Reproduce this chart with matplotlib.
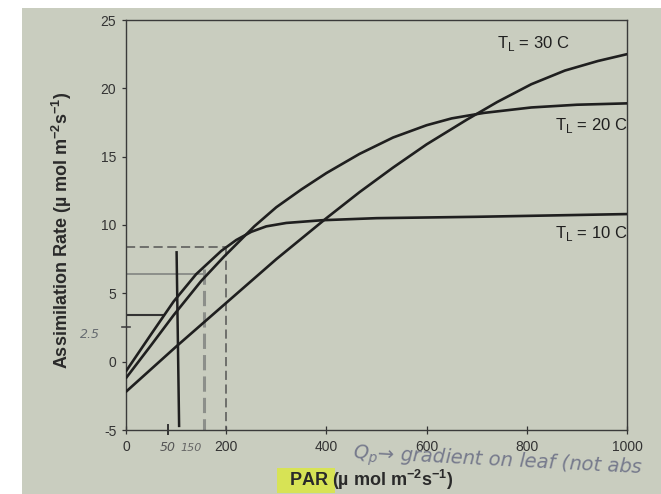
import matplotlib
matplotlib.use("Agg")
import matplotlib.pyplot as plt
from matplotlib import font_manager
from matplotlib.patches import Rectangle

# light-response curves of leaf assimilation at three leaf temperatures
par_30 = [0, 100, 200, 300, 400, 466, 533, 600, 680, 741, 809, 876, 942, 1000]
rate_30 = [-2.2, 1.1, 4.3, 7.5, 10.5, 12.4, 14.2, 15.9, 17.7, 19.0, 20.3, 21.3, 22.0, 22.5]

par_20 = [0, 50, 95, 150, 196, 256, 300, 350, 400, 466, 533, 600, 650, 714, 809, 900, 1000]
rate_20 = [-1.2, 1.2, 3.4, 5.9, 7.7, 9.9, 11.3, 12.6, 13.8, 15.2, 16.4, 17.3, 17.8, 18.2,
           18.6, 18.8, 18.9]

par_10 = [0, 50, 95, 140, 190, 220, 250, 280, 320, 392, 500, 700, 1000]
rate_10 = [-0.7, 2.0, 4.4, 6.4, 8.1, 8.9, 9.5, 9.9, 10.15, 10.35, 10.5, 10.6, 10.8]

curve_labels = [r"T$_\mathrm{L}$ = 30 C", r"T$_\mathrm{L}$ = 20 C", r"T$_\mathrm{L}$ = 10 C"]
label_pos = [(741, 23.3), (856, 17.3), (856, 9.4)]

x_ticks = [0, 200, 400, 600, 800, 1000]
y_ticks = [-5, 0, 5, 10, 15, 20, 25]

# pen / pencil marks added on the printed page
pen_level_hi = 8.4      # dashed read-off level
pen_par_hi = 200
pencil_level = 6.4
pencil_par = 155
solid_par = 103
solid_top = 8.0
short_level = 3.4
short_end = 75

INK = "#1f1f1f"
PAPER = "#c9cdbf"
PENCIL = "#8c8f8a"

names = {f.name for f in font_manager.fontManager.ttflist}
NARROW = "Liberation Sans Narrow" if "Liberation Sans Narrow" in names else "Liberation Sans"

plt.rcParams["font.family"] = ["Liberation Sans", "DejaVu Sans"]
plt.rcParams["mathtext.fontset"] = "custom"
plt.rcParams["mathtext.rm"] = "Liberation Sans"
plt.rcParams["mathtext.bf"] = "Liberation Sans:bold"

W, H = 661, 494
fig = plt.figure(figsize=(W / 100, H / 100), dpi=100, facecolor="white")
fig.patches.append(Rectangle((22 / W, 0), 1, 1 - 8 / H, transform=fig.transFigure,
                             facecolor=PAPER, edgecolor="none", zorder=-10))

ax = fig.add_axes([126 / W, 1 - 430 / H, (627 - 126) / W, (430 - 20) / H])
ax.set_facecolor("none")

for xs, ys in [(par_30, rate_30), (par_20, rate_20), (par_10, rate_10)]:
    ax.plot(xs, ys, color=INK, lw=1.9, solid_joinstyle="round", solid_capstyle="round", zorder=3)

for txt, (lx, ly) in zip(curve_labels, label_pos):
    ax.text(lx, ly, txt, fontsize=12, color=INK, family=NARROW, va="center", ha="left")

ax.set_xlim(0, 1000)
ax.set_ylim(-5, 25)
ax.set_xticks(x_ticks)
ax.set_yticks(y_ticks)
ax.set_xticklabels([str(v) for v in x_ticks], family=NARROW)
ax.set_yticklabels([str(v) for v in y_ticks], family=NARROW)
ax.tick_params(axis="x", direction="inout", length=6, width=0.9, colors="#333333",
               labelsize=10, pad=4)
ax.tick_params(axis="y", direction="out", length=3, width=0.9, colors="#333333",
               labelsize=10, pad=4)
for s in ax.spines.values():
    s.set_color("#3a3a3a")
    s.set_linewidth(1.0)

fig.text(62 / W, 1 - 230 / H,
         r"Assimilation Rate (µ mol m$^{\mathbf{-2}}$s$^{\mathbf{-1}}$)",
         rotation=90, ha="center", va="center", fontsize=13, fontweight="bold",
         color="#2a2a2a")

fig.text(371 / W, 1 - 480 / H, r"PAR (µ mol m$^{\mathbf{-2}}$s$^{\mathbf{-1}}$)",
         ha="center", va="center", fontsize=13, fontweight="bold", color="#2a2a2a")
fig.patches.append(Rectangle((277 / W, 1 - 493 / H), 58 / W, 25 / H, transform=fig.transFigure,
                             facecolor="#d9e64a", edgecolor="none", alpha=0.9, zorder=-5))

# hand-drawn guide lines
ax.plot([0, pen_par_hi], [pen_level_hi, pen_level_hi], ls=(0, (6, 3)), color="#555555", lw=1.1, zorder=2)
ax.plot([pen_par_hi, pen_par_hi], [pen_level_hi, -5], ls=(0, (6, 3)), color="#555555", lw=1.1, zorder=2)
ax.plot([0, pencil_par], [pencil_level, pencil_level], color=PENCIL, lw=1.4, zorder=2)
ax.plot([pencil_par, pencil_par], [pencil_level + 0.4, -5], ls=(0, (5, 2)), color=PENCIL, lw=2.2, zorder=2)
ax.plot([solid_par - 2, solid_par + 3], [solid_top, -4.7], color=INK, lw=1.8, zorder=2)
ax.plot([0, short_end], [short_level, short_level], color="#333333", lw=1.5, zorder=2)

ax.plot([-8, 8], [2.5, 2.5], color="#444444", lw=1.2, clip_on=False)
ax.text(-72, 2.0, "2.5", fontsize=9, color="#666b70", style="italic",
        family="DejaVu Sans", ha="center", va="center", clip_on=False)
ax.plot([83, 83], [-5.3, -4.6], color="#333333", lw=1.4, clip_on=False)
ax.text(83, -6.3, "50", fontsize=9, color="#555555", style="italic", family="DejaVu Sans",
        ha="center", va="center", clip_on=False)
ax.text(152, -6.3, "150", fontsize=8, color="#666666", style="italic", family="DejaVu Sans",
        ha="right", va="center", clip_on=False)

fig.text(352 / W, 1 - 462 / H, "Q$_p$→ gradient on leaf (not abs", fontsize=14,
         color="#767a8c", style="italic", family="DejaVu Sans", rotation=-3,
         ha="left", va="center")

fig.savefig("out.png", dpi=100, facecolor=fig.get_facecolor())
